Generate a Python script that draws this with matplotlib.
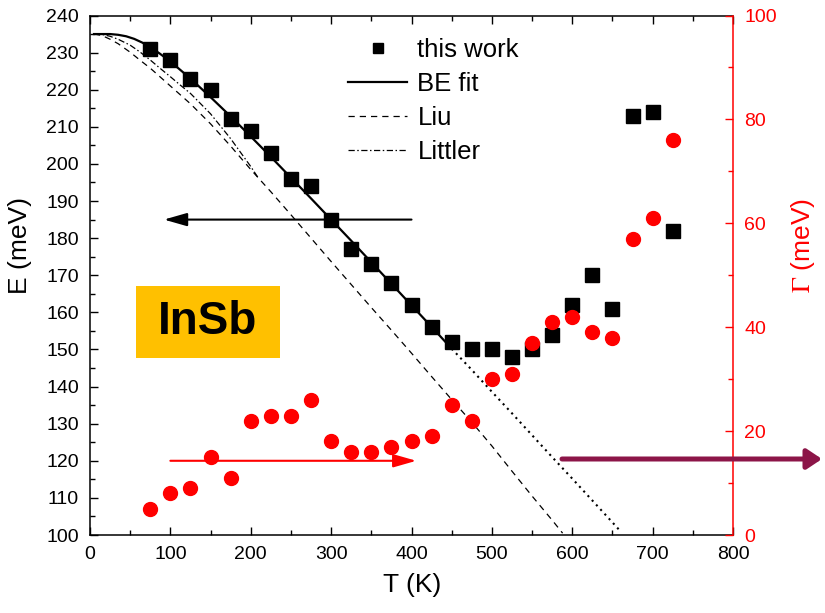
import matplotlib
matplotlib.use('Agg')
import matplotlib.pyplot as plt
from matplotlib.patches import FancyArrowPatch, Rectangle
from matplotlib.ticker import MultipleLocator

plt.rcParams['font.family'] = ['Liberation Sans', 'DejaVu Sans']
plt.rcParams['mathtext.fontset'] = 'stix'

# ---- data ----
T_data = [75, 100, 125, 150, 175, 200, 225, 250, 275, 300, 325, 350, 375, 400,
          425, 450, 475, 500, 525, 550, 575, 600, 625, 650, 675, 700, 725]
E_data = [231, 228, 223, 220, 212, 209, 203, 196, 194, 185, 177, 173, 168, 162,
          156, 152, 150, 150, 148, 150, 154, 162, 170, 161, 213, 214, 182]
G_data = [5, 8, 9, 15, 11, 22, 23, 23, 26, 18, 16, 16, 17, 18,
          19, 25, 22, 30, 31, 37, 41, 42, 39, 38, 57, 61, 76]

T_fit = [5, 15, 25, 35, 45, 55, 65, 75, 87, 100, 112, 125, 150, 175, 200, 225,
         250, 275, 300, 325, 350, 375, 400, 425, 450]
E_fit = [235.0, 235.0, 235.0, 234.8, 234.4, 233.7, 232.7, 231.5, 229.7, 227.6,
         225.4, 223.0, 218.0, 212.8, 207.4, 201.9, 196.3, 190.7, 185.0, 179.3,
         173.5, 167.7, 161.9, 156.1, 150.2]
T_ext = [450, 475, 500, 525, 550, 575, 600, 625, 650, 660]
E_ext = [150.2, 144.5, 138.6, 132.8, 126.9, 121.0, 115.2, 109.3, 103.4, 101.0]

T_liu = [5, 15, 25, 35, 50, 62, 75, 87, 100, 112, 125, 150, 175, 200, 225, 250,
         275, 300, 325, 350, 375, 400, 425, 450, 475, 500, 525, 550, 575, 588]
E_liu = [235.0, 234.6, 233.6, 232.4, 230.1, 228.0, 225.8, 223.5, 221.0, 218.7,
         216.2, 210.8, 204.8, 198.5, 192.5, 186.3, 180.0, 173.7, 167.5, 161.3,
         155.2, 149.0, 142.7, 136.5, 130.4, 124.0, 117.2, 110.5, 104.0, 100.5]

T_lit = [5, 15, 25, 35, 50, 62, 75, 87, 100, 112, 125, 150, 175, 200, 210]
E_lit = [235.0, 234.9, 234.4, 233.6, 232.0, 230.2, 228.0, 225.8, 223.5, 221.3,
         219.0, 213.5, 206.8, 199.3, 196.0]

legend_labels = ['this work', 'BE fit', 'Liu', 'Littler']

# ---- figure ----
W, H = 825, 613
fig = plt.figure(figsize=(W / 100, H / 100), dpi=100)
ax = fig.add_axes([90 / W, 1 - 535 / H, 643 / W, 519.5 / H])
ax2 = ax.twinx()

ax.set_xlim(0, 800)
ax.set_ylim(100, 240)
ax2.set_ylim(0, 100)

# curves
l_fit, = ax.plot(T_fit, E_fit, '-', color='black', lw=1.6)
ax.plot(T_ext, E_ext, color='black', lw=1.5, linestyle=(0, (1, 2)))
l_liu, = ax.plot(T_liu, E_liu, color='black', lw=0.9, linestyle=(0, (5, 4)))
l_lit, = ax.plot(T_lit, E_lit, color='black', lw=0.9, linestyle=(0, (5, 2, 1.2, 2)))
h_sq, = ax.plot(T_data, E_data, 's', color='black', ms=10, linestyle='none')

ax2.plot(T_data, G_data, 'o', color='red', ms=10, linestyle='none', mec='red')

# InSb label
ax.add_patch(Rectangle((57, 147.7), 179, 19.3, facecolor='#FFC000', edgecolor='none', zorder=1))
ax.text(146.5, 157.4, 'InSb', fontsize=33, fontweight='bold', ha='center', va='center', zorder=2)

# arrows
ax.annotate('', xy=(92, 185), xytext=(400, 185),
            arrowprops=dict(arrowstyle='-|>,head_length=0.7,head_width=0.2', color='black',
                            lw=1.5, shrinkA=0, shrinkB=0, mutation_scale=20))
ax.annotate('', xy=(406, 120), xytext=(100, 120),
            arrowprops=dict(arrowstyle='-|>,head_length=0.7,head_width=0.2', color='red',
                            lw=1.5, shrinkA=0, shrinkB=0, mutation_scale=20))
fig.add_artist(FancyArrowPatch((562 / W, 1 - 459 / H), (822 / W, 1 - 459 / H),
                               transform=fig.transFigure,
                               arrowstyle='-|>,head_length=0.45,head_width=0.3',
                               mutation_scale=20, lw=3.6, color='#8C1548',
                               shrinkA=0, shrinkB=0))

# ticks
ax.xaxis.set_major_locator(MultipleLocator(100))
ax.xaxis.set_minor_locator(MultipleLocator(50))
ax.yaxis.set_major_locator(MultipleLocator(10))
ax.yaxis.set_minor_locator(MultipleLocator(5))
ax.tick_params(axis='both', which='both', direction='in', top=True, right=False,
               labelsize=14, width=1, pad=8)
ax.tick_params(which='major', length=6)
ax.tick_params(which='minor', length=3.5)

ax2.yaxis.set_major_locator(MultipleLocator(20))
ax2.yaxis.set_minor_locator(MultipleLocator(10))
ax2.tick_params(axis='y', which='both', direction='in', colors='red', labelsize=14,
                width=1, pad=8)
ax2.tick_params(which='major', length=6)
ax2.tick_params(which='minor', length=3.5)

for s in ax.spines.values():
    s.set_linewidth(1.1)
ax.spines['right'].set_visible(False)
for k, s in ax2.spines.items():
    s.set_linewidth(1.1)
    if k != 'right':
        s.set_visible(False)
ax2.spines['right'].set_color('red')

# labels
fig.text(20 / W, 1 - 245 / H, 'E (meV)', rotation=90, ha='center', va='center', fontsize=19)
fig.text(803 / W, 1 - 245 / H, r'$\Gamma$ (meV)', rotation=90, ha='center', va='center',
         fontsize=19, color='red')
fig.text(412 / W, 1 - 585 / H, 'T (K)', ha='center', va='center', fontsize=19)

# legend
leg = ax.legend([h_sq, l_fit, l_liu, l_lit], legend_labels, loc='upper left',
                bbox_to_anchor=(348 / W, 1 - 38 / H), bbox_transform=fig.transFigure,
                frameon=False, fontsize=18.5, handlelength=2.3, handletextpad=0.4,
                labelspacing=0.39, markerscale=0.75, borderpad=0, borderaxespad=0)

fig.savefig('out.png', dpi=100)
